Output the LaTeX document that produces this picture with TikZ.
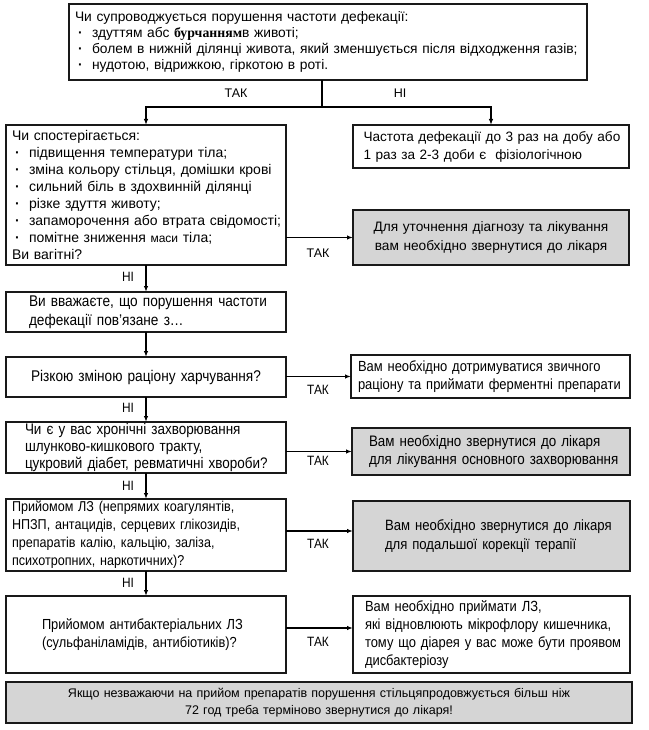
\documentclass[tikz,border=0pt]{standalone}
\usepackage{fontspec}
\setmainfont{Liberation Sans}
\newfontfamily\narrowfont{Liberation Sans}[FakeStretch=0.88]
\newfontfamily\seriffont{Liberation Serif}
\usetikzlibrary{arrows.meta,calc}
\definecolor{boxgray}{HTML}{D5D5D5}
\newcommand{\bul}{\makebox[17bp][l]{\hspace{3bp}\textbf{·}}}
\newcommand{\Ln}[1]{\mbox{#1}}
\newcommand{\nf}[2]{\narrowfont\fontsize{#1bp}{#2bp}\selectfont}
\begin{document}
\begin{tikzpicture}[x=1bp,y=-1bp,
  box/.style={draw=black!90, line width=1.4bp, anchor=north west, inner sep=0pt, outer sep=0pt, align=left,
    font=\fontsize{14bp}{16bp}\selectfont},
  gbox/.style={box, fill=boxgray},
  arr/.style={line width=1.3bp, -{Latex[length=6bp,width=4.5bp]}},
  lbl/.style={font=\fontsize{12.5bp}{14bp}\selectfont, inner sep=0pt},
  nlbl/.style={font=\nf{13.5}{14}, inner sep=0pt}
]
\useasboundingbox (0,0) rectangle (649,730);

\node[box, minimum width=518bp, minimum height=76bp, text width=506bp,
  font=\fontsize{13.8bp}{15.9bp}\selectfont] (top) at (69,4)
 {\Ln{Чи супроводжується порушення частоти дефекації:}\\
  \Ln{\bul здуттям абс {\seriffont\bfseries бурчанням}в животі;}\\
  \Ln{\bul болем в нижній ділянці живота, який зменшується після відходження газів;}\\
  \Ln{\bul нудотою, відрижкою, гіркотою в роті.}};

\node[box, minimum width=280bp, minimum height=140bp, text width=268bp,
  font=\fontsize{14bp}{16.9bp}\selectfont] (obs) at (6,125)
 {\Ln{Чи спостерігається:}\\
  \Ln{\bul підвищення температури тіла;}\\
  \Ln{\bul зміна кольору стільця, домішки крові}\\
  \Ln{\bul сильний біль в здохвинній ділянці}\\
  \Ln{\bul різке здуття животу;}\\
  \Ln{\bul запаморочення або втрата свідомості;}\\
  \Ln{\bul помітне зниження {\fontsize{12bp}{14bp}\selectfont маси} тіла;}\\
  \Ln{Ви вагітні?}};

\node[box, minimum width=276bp, minimum height=43bp, text width=255bp,
  font=\fontsize{13.6bp}{18bp}\selectfont] (phys) at (353,125)
 {\Ln{Частота дефекації до 3 раз на добу або}\\
  \Ln{1 раз за 2-3 доби є \ фізіологічною}};

\node[gbox, minimum width=276bp, minimum height=55bp, text width=270bp, align=center,
  font=\fontsize{13.7bp}{19bp}\selectfont] (doc1) at (353,210)
 {Для уточнення діагнозу та лікування\\
  вам необхідно звернутися до лікаря};

\node[box, minimum width=280bp, minimum height=40bp, text width=234bp,
  font=\nf{15.5}{18.8}] (q1) at (6,292)
 {\Ln{Ви вважаєте, що порушення частоти}\\
  \Ln{дефекації пов’язане з…}};

\node[box, minimum width=280bp, minimum height=40bp, text width=270bp, align=center,
  font=\nf{15.5}{18}] (q2) at (6,357)
 {Різкою зміною раціону харчування?};

\node[box, minimum width=279bp, minimum height=43bp, text width=265bp,
  font=\nf{14.7}{18.5}] (a2) at (351,355)
 {\Ln{Вам необхідно дотримуватися звичного}\\
  \Ln{раціону та приймати ферментні препарати}};

\node[box, minimum width=280bp, minimum height=51bp, text width=242bp,
  font=\nf{15.3}{16.6}] (q3) at (6,422)
 {\Ln{Чи є у вас хронічні захворювання}\\
  \Ln{шлунково-кишкового тракту,}\\
  \Ln{цукровий діабет, ревматичні хвороби?}};

\node[gbox, minimum width=278bp, minimum height=47bp, text width=244bp,
  font=\nf{15.2}{18.5}] (a3) at (352,428)
 {\Ln{Вам необхідно звернутися до лікаря}\\
  \Ln{для лікування основного захворювання}};

\node[box, minimum width=280bp, minimum height=72bp, text width=268bp,
  font=\nf{14.3}{18}] (q4) at (6,499)
 {\Ln{Прийомом ЛЗ (непрямих коагулянтів,}\\
  \Ln{НПЗП, антацидів, серцевих глікозидів,}\\
  \Ln{препаратів калію, кальцію, заліза,}\\
  \Ln{психотропних, наркотичних)?}};

\node[gbox, minimum width=277bp, minimum height=70bp, text width=213bp,
  font=\nf{14.9}{18.5}] (a4) at (353,501)
 {\Ln{Вам необхідно звернутися до лікаря}\\
  \Ln{для подальшої корекції терапії}};

\node[box, minimum width=280bp, minimum height=77bp, text width=208bp,
  font=\nf{14.6}{18.5}] (q5) at (6,596)
 {\Ln{Прийомом антибактеріальних ЛЗ}\\
  \Ln{(сульфаніламідів, антибіотиків)?}};

\node[box, minimum width=277bp, minimum height=77bp, text width=253bp,
  font=\nf{14.7}{17.8}] (a5) at (353,596)
 {\Ln{Вам необхідно приймати ЛЗ,}\\
  \Ln{які відновлюють мікрофлору кишечника,}\\
  \Ln{тому що діарея у вас може бути проявом}\\
  \Ln{дисбактеріозу}};

\node[gbox, minimum width=626bp, minimum height=41bp, text width=610bp, align=center,
  font=\fontsize{12.5bp}{17bp}\selectfont] (note) at (6,682)
 {Якщо незважаючи на прийом препаратів порушення стільцяпродовжується більш ніж\\
  72 год треба терміново звернутися до лікаря!};

% connectors
\coordinate (br) at (322,107);
\draw[line width=1.3bp] (br |- top.south) -- (br);
\draw[arr] (br) -| (obs.north);
\draw[arr] (br) -| (phys.north);
\node[lbl] (t0) at (236,93) {ТАК};
\node[lbl] (n0) at (400,93) {НІ};

\draw[arr] (obs.east |- doc1.west) -- (doc1.west);
\node[lbl] (t1) at (318,253) {ТАК};

\draw[arr] (obs.south) -- (q1.north);
\node[nlbl] (n1) at (128,277) {НІ};

\draw[arr] (q1.south) -- (q2.north);

\draw[arr] (q2.east |- a2.west) -- (a2.west);
\node[nlbl] (t2) at (318,390) {ТАК};

\draw[arr] (q2.south) -- (q3.north);
\node[nlbl] (n2) at (128,408) {НІ};

\draw[arr] (q3.east |- a3.west) -- (a3.west);
\node[nlbl] (t3) at (318,461) {ТАК};

\draw[arr] (q3.south) -- (q4.north);
\node[nlbl] (n3) at (128,486) {НІ};

\draw[arr] (q4.east |- 0,531) -- (a4.west |- 0,531);
\node[nlbl] (t4) at (318,544) {ТАК};

\draw[arr] (q4.south) -- (q5.north);
\node[nlbl] (n4) at (128,583) {НІ};

\draw[arr] (q5.east |- 0,628) -- (a5.west |- 0,628);
\node[nlbl] (t5) at (318,642) {ТАК};
\end{tikzpicture}
\end{document}
